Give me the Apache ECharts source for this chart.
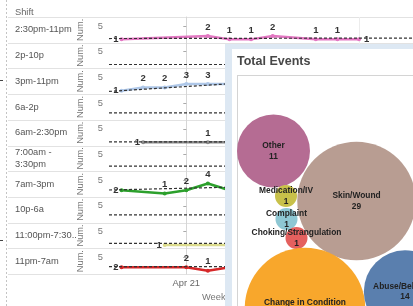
<!DOCTYPE html>
<html>
<head>
<meta charset="utf-8">
<script src="https://cdn.jsdelivr.net/npm/echarts@6/dist/echarts.min.js"></script>
<style>
html, body { margin: 0; padding: 0; background: #fff; }
#chart { width: 413px; height: 306px; }
</style>
</head>
<body>
<div id="chart"></div>
<script>
// rows of the small multiples
const shifts = ['2:30pm-11pm', '2p-10p', '3pm-11pm', '6a-2p', '6am-2:30pm', '7:00am - 3:30pm', '7am-3pm', '10p-6a', '11:00pm-7:30am', '11pm-7am']
const shiftColors = ['#e377c2', '#9edae5', '#aec7e8', '#c5b0d5', '#8a8a8a', '#98df8a', '#2ca02c', '#ff9896', '#dbdb8d', '#d62728']
// day offset from Apr 21 -> number of records
const shiftDays = [
  [-3, 1, 2, 3, 4, 6, 7, 8],
  [],
  [-3, -2, -1, 0, 1, 2],
  [],
  [-2, 1, 2],
  [],
  [-3, -1, 0, 1, 2],
  [],
  [-1, 2],
  [-3, 0, 1, 2],
]
const shiftCounts = [
  [1, 2, 1, 1, 2, 1, 1, 1],
  [],
  [1, 2, 2, 3, 3, 3],
  [],
  [1, 1, 1],
  [],
  [2, 1, 2, 4, 2],
  [],
  [1, 1],
  [2, 2, 1, 2],
]
// dashed trend lines (value at the left edge, change per day)
const trendStart = [1.25, 1.17, 0.8, 2.1, 1.1, 1.55, 2.07, 2.3, 1.5, 2.2]
const trendSlope = [0.01, 0, 0.41, 0, 0, 0, 0.15, 0, 0, 0]
const weekTicks = [0, 8]
const xMin = -3.58
const xMax = 10.5

// Total Events bubbles
const eventTypes = ['Other', 'Skin/Wound', 'Medication/IV', 'Complaint', 'Choking/Strangulation', 'Change in Condition', 'Abuse/Behavior']
const eventCounts = [11, 29, 1, 1, 1, 30, 14]
const eventColors = ['#b56c93', '#b89d92', '#c8c14a', '#8ec7d3', '#e4605e', '#f8a72c', '#5a7fae']
// packed layout inside the panel
const packX = [36.5, 119.5, 49, 49.5, 59.5, 68, 168]
const packY = [75, 125, 120, 143, 162, 232, 215.5]

const font = 'Liberation Sans, Arial, sans-serif'
const rowTop = 17
const rowH = 25.7
const baseDate = new Date(2013, 3, 21)
const months = ['Jan', 'Feb', 'Mar', 'Apr', 'May', 'Jun', 'Jul', 'Aug', 'Sep', 'Oct', 'Nov', 'Dec']
const fmtDay = (v) => {
  const d = new Date(baseDate.getTime() + v * 86400000)
  return months[d.getMonth()] + ' ' + d.getDate()
}

const grids = []
const xAxes = []
const yAxes = []
const series = []
const graphics = []

shifts.forEach((name, i) => {
  const last = i === shifts.length - 1
  grids.push({ left: 109, right: 0, top: rowTop + i * rowH, height: rowH })
  xAxes.push({
    gridIndex: i, type: 'value', min: xMin, max: xMax,
    axisLine: { show: false },
    axisTick: { show: false, customValues: weekTicks },
    splitLine: { show: true, lineStyle: { color: '#ececec' } },
    axisLabel: { show: last, customValues: [0], formatter: fmtDay, color: '#666', fontSize: 9.3, fontFamily: font, margin: 5 },
  })
  yAxes.push({
    gridIndex: i, type: 'value', min: 0, max: 7.7,
    name: 'Num.', nameLocation: 'middle', nameRotate: 90, nameGap: 24,
    nameTextStyle: { color: '#777', fontSize: 9.3, fontFamily: font },
    axisLine: { show: true, lineStyle: { color: '#d6d6d6' } },
    axisTick: { show: true, length: 3, customValues: [5], lineStyle: { color: '#aaa' } },
    axisLabel: { customValues: [5], color: '#777', fontSize: 9.3, fontFamily: font, margin: 6 },
    splitLine: { show: false },
  })
  const days = shiftDays[i]
  if (days.length) {
    series.push({
      type: 'line', xAxisIndex: i, yAxisIndex: i, z: 2,
      data: days.map((d, k) => ({
        value: [d, shiftCounts[i][k]],
        label: { position: k === 0 ? 'left' : (k === days.length - 1 ? 'right' : 'top'), distance: k === 0 ? 1 : (k === days.length - 1 ? 3 : 2) },
      })),
      color: shiftColors[i],
      lineStyle: { width: 2.5 },
      symbol: 'circle', symbolSize: 4,
      label: { show: true, color: '#333', fontSize: 9.5, fontWeight: 'bold', fontFamily: font, formatter: (p) => p.value[1] },
    })
  }
  series.push({
    type: 'line', xAxisIndex: i, yAxisIndex: i, z: 3, silent: true,
    data: [[xMin, trendStart[i]], [xMax, trendStart[i] + trendSlope[i] * (xMax - xMin)]],
    symbol: 'none',
    lineStyle: { color: '#333', width: 1.2, type: [3, 2] },
  })
  graphics.push({
    type: 'text', x: 15, y: rowTop + i * rowH + rowH / 2, z: 1,
    style: {
      text: name, fill: '#555', font: '9.3px ' + font, verticalAlign: 'middle',
      width: 63, overflow: name.includes(' - ') ? 'break' : 'truncate', ellipsis: '..', lineHeight: 11.5,
    },
  })
})

// row dividers
for (let i = 0; i <= shifts.length; i++) {
  const y = Math.round(rowTop + i * rowH) + 0.5
  graphics.push({ type: 'line', z: 0, shape: { x1: 8, y1: y, x2: 413, y2: y }, style: { stroke: '#e2e2e2', lineWidth: 1 } })
}
graphics.push(
  { type: 'line', z: 0, shape: { x1: 6.5, y1: 0, x2: 6.5, y2: 306 }, style: { stroke: '#c4c4c4', lineWidth: 1, lineDash: [2, 2] } },
  { type: 'line', z: 0, shape: { x1: 0, y1: 80.5, x2: 3, y2: 80.5 }, style: { stroke: '#444', lineWidth: 1 } },
  { type: 'line', z: 0, shape: { x1: 0, y1: 240.5, x2: 3, y2: 240.5 }, style: { stroke: '#444', lineWidth: 1 } },
  { type: 'text', x: 15, y: 12, z: 1, style: { text: 'Shift', fill: '#666', font: '9.3px ' + font, verticalAlign: 'middle' } },
  { type: 'text', x: 202, y: 297, z: 1, style: { text: 'Week of Date', fill: '#777', font: '9.3px ' + font, verticalAlign: 'middle' } },
  // Total Events panel
  { type: 'rect', z: 50, shape: { x: 225, y: 44, width: 188, height: 262 }, style: { fill: '#dde8f3' } },
  { type: 'rect', z: 50, shape: { x: 232, y: 49, width: 181, height: 257 }, style: { fill: '#ffffff' } },
  { type: 'text', x: 237, y: 61.5, z: 51, style: { text: 'Total Events', fill: '#474747', font: 'bold 12.5px ' + font, verticalAlign: 'middle' } },
  { type: 'line', z: 51, shape: { x1: 237, y1: 75.5, x2: 413, y2: 75.5 }, style: { stroke: '#d4d4d4', lineWidth: 1 } },
  { type: 'line', z: 51, shape: { x1: 237.5, y1: 75.5, x2: 237.5, y2: 306 }, style: { stroke: '#d4d4d4', lineWidth: 1 } },
)

// bubble grid
const bi = shifts.length
grids.push({ left: 237, top: 76, right: 0, bottom: 0 })
xAxes.push({ gridIndex: bi, type: 'value', min: 0, max: 176, show: false })
yAxes.push({ gridIndex: bi, type: 'value', min: 0, max: 230, inverse: true, show: false })
series.push({
  type: 'scatter', xAxisIndex: bi, yAxisIndex: bi, z: 60, clip: false, silent: true,
  data: eventTypes.map((n, k) => ({ name: n, value: [packX[k], packY[k], eventCounts[k]], itemStyle: { color: eventColors[k], opacity: 1 } })),
  symbolSize: (v) => 22 * Math.sqrt(v[2]),
  label: {
    show: true, position: 'inside', formatter: (p) => p.name + '\n' + p.value[2],
    color: '#222', fontSize: 8.4, fontWeight: 'bold', fontFamily: font, lineHeight: 10.5,
  },
})

const chart = echarts.init(document.getElementById('chart'), null, { renderer: 'canvas' })
chart.setOption({
  animation: false,
  grid: grids,
  xAxis: xAxes,
  yAxis: yAxes,
  series: series,
  graphic: graphics,
})
</script>
</body>
</html>
